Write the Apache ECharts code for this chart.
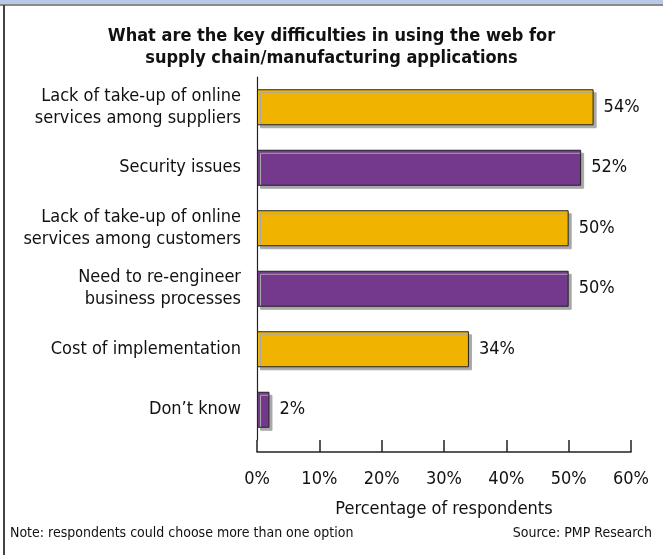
<!DOCTYPE html>
<html><head><meta charset="utf-8">
<script src="https://cdn.jsdelivr.net/npm/echarts@6/dist/echarts.min.js"></script>
<style>html,body{margin:0;padding:0;background:#fff}#c{width:663px;height:555px}</style>
</head><body><div id="c"></div>
<script>
const categories = [
  "Lack of take-up of online\nservices among suppliers",
  "Security issues",
  "Lack of take-up of online\nservices among customers",
  "Need to re-engineer\nbusiness processes",
  "Cost of implementation",
  "Don\u2019t know"
];
const values = [54, 52, 50, 50, 34, 2];
const barColors = ["#f0b400", "#74398c", "#f0b400", "#74398c", "#f0b400", "#74398c"];
const titleLines = "What are the key difficulties in using the web for\nsupply chain/manufacturing applications";
const axisName = "Percentage of respondents";
const noteText = "Note: respondents could choose more than one option";
const sourceText = "Source: PMP Research";

const FONT = "'Liberation Sans Narrow', 'DejaVu Sans Condensed', 'Liberation Sans', sans-serif";
const chart = echarts.init(document.getElementById('c'), null, {renderer: 'canvas'});
chart.setOption({
  backgroundColor: '#ffffff',
  animation: false,
  title: {
    text: titleLines, left: 'center', top: 20,
    textStyle: {fontFamily: FONT, fontSize: 18, fontWeight: 'bold', color: '#111', lineHeight: 22}
  },
  graphic: [
    {type: 'rect', shape: {x: 0, y: 0, width: 663, height: 5}, style: {fill: '#b9c8e6'}},
    {type: 'rect', shape: {x: 0, y: 4, width: 663, height: 2}, style: {fill: '#8a8a8a'}},
    {type: 'rect', shape: {x: 3, y: 5, width: 2, height: 550}, style: {fill: '#444'}},
    {type: 'text', left: 10, top: 526, style: {text: noteText, font: "14px " + FONT, fill: '#111'}},
    {type: 'text', right: 11, top: 526, style: {text: sourceText, font: "14px " + FONT, fill: '#111'}}
  ],
  grid: {left: 257, right: 32, top: 77, bottom: 115, containLabel: false},
  xAxis: {
    type: 'value', min: 0, max: 60, interval: 10, offset: 12,
    name: axisName, nameLocation: 'middle', nameGap: 48,
    nameTextStyle: {fontFamily: FONT, fontSize: 18, color: '#111'},
    axisLine: {show: true, lineStyle: {color: '#222', width: 1.5}},
    axisTick: {show: true, inside: true, length: 12, lineStyle: {color: '#222', width: 1.5}},
    axisLabel: {formatter: '{value}%', fontFamily: FONT, fontSize: 18, color: '#111', margin: 18},
    splitLine: {show: false}
  },
  yAxis: {
    type: 'category', data: categories, inverse: true,
    axisLine: {show: true, lineStyle: {color: '#222', width: 1.2}},
    axisTick: {show: false},
    axisLabel: {fontFamily: FONT, fontSize: 18, color: '#111', lineHeight: 22, margin: 16, align: 'right'}
  },
  series: [{
    type: 'bar', barWidth: 36,
    data: values.map((v, i) => ({value: v, itemStyle: {color: barColors[i]}})),
    itemStyle: {borderColor: '#222', borderWidth: 1, shadowColor: '#a8a8a8', shadowBlur: 0, shadowOffsetX: 3, shadowOffsetY: 3},
    label: {show: true, position: 'right', distance: 10, formatter: '{c}%', fontFamily: FONT, fontSize: 18, color: '#111'}
  }]
});
</script></body></html>
